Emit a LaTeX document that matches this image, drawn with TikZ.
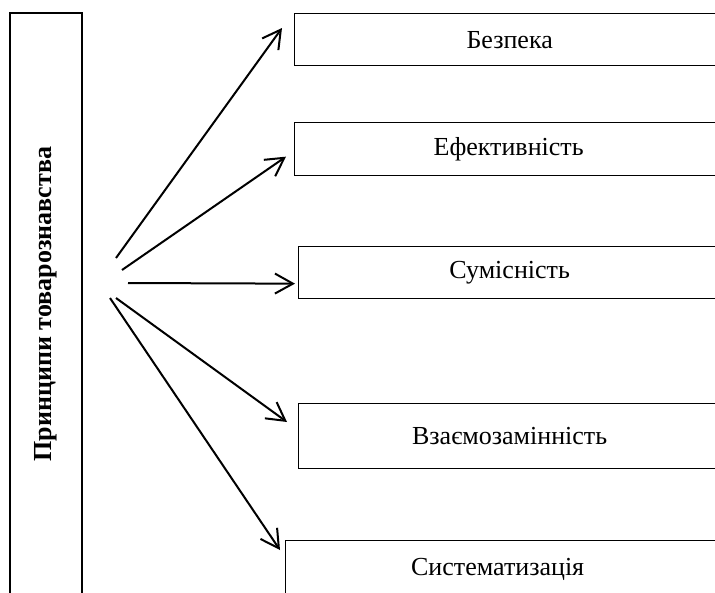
\documentclass[tikz,border=0pt]{standalone}
\usepackage{fontspec}
\setmainfont{Liberation Serif}
\usetikzlibrary{arrows.meta}

\tikzset{
  box/.style={draw, line width=1.3pt, anchor=north west, inner sep=0pt,
    font=\fontsize{26}{30}\selectfont},
  arr/.style={-{Straight Barb[length=18pt,width=20pt,line width=2pt]}, line width=2pt},
}

\begin{document}
\begin{tikzpicture}[x=1pt,y=-1pt]

\useasboundingbox (0,0) rectangle (715,592);
\clip (0,0) rectangle (715,592);

%% left column
\node [draw, line width=1.3pt, rotate=90, minimum width=582pt, minimum height=72pt,
  inner sep=0pt, font=\fontsize{26}{30}\selectfont\bfseries] (prin) at (46,304)
  {Принципи товарознавства};

%% principles
\node [box, minimum width=430pt, minimum height=52pt] (bez) at (294,13) {Безпека};
\node [box, minimum width=428pt, minimum height=53pt] (eff) at (294,122) {Ефективність};
\node [box, minimum width=422pt, minimum height=52pt] (sum) at (298,246) {Сумісність};
\node [box, minimum width=422pt, minimum height=65pt] (vza) at (298,403) {Взаємозамінність};
\node [box, minimum width=440pt, minimum height=58pt] (sys) at (285,540) {\hspace*{-16pt}Систематизація};

%% arrow starts
\coordinate (s1) at (116,258);
\coordinate (s2) at (122,270);
\coordinate (s3) at (128,283);
\coordinate (s4) at (116,298);
\coordinate (s5) at (110,298);

\draw [arr] (s1) -- ([xshift=-12pt,yshift=-15pt]bez.north west);
\draw [arr] (s2) -- ([xshift=-8pt,yshift=-7.5pt]eff.west);
\draw [arr] (s3) -- ([xshift=-3pt,yshift=-11pt]sum.west);
\draw [arr] (s4) -- ([xshift=-11pt,yshift=-19pt]vza.north west);
\draw [arr] (s5) -- ([xshift=-5pt,yshift=-10pt]sys.north west);

\end{tikzpicture}
\end{document}
